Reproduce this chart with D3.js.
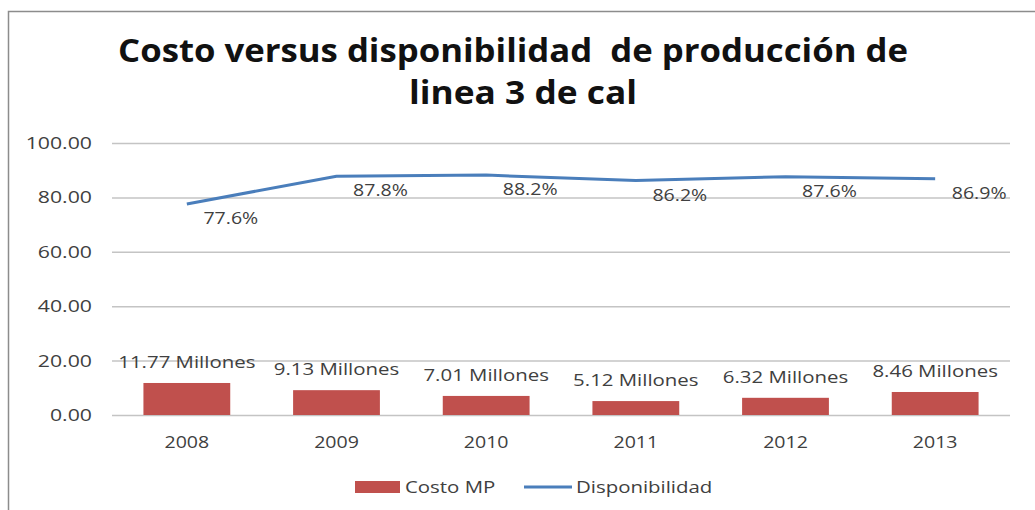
<!DOCTYPE html>
<html>
<head>
<meta charset="utf-8">
<script src="https://cdn.jsdelivr.net/npm/d3@7"></script>
<style>
  body { margin: 0; background: #fff; }
  text { font-family: "Open Sans", Arial, sans-serif; }
</style>
</head>
<body>
<svg id="chart" width="1035" height="510"></svg>
<script>
// data
const years = ["2008", "2009", "2010", "2011", "2012", "2013"];
const costoMP = [11.77, 9.13, 7.01, 5.12, 6.32, 8.46];
const disponibilidad = [77.6, 87.8, 88.2, 86.2, 87.6, 86.9];
const yTicks = [0, 20, 40, 60, 80, 100];

const svg = d3.select("#chart");
const margin = { top: 143, left: 112, right: 25, bottom: 95 };
const width = 1035 - margin.left - margin.right;
const height = 510 - margin.top - margin.bottom;

//the source picture is stretched sideways, so widen the small labels a bit
function widen(sel, f) {
    sel.each(function() {
        const w = this.getComputedTextLength();
        d3.select(this).attr("textLength", w * f).attr("lengthAdjust", "spacingAndGlyphs");
    });
}

//outer border of the chart box
svg.append("path")
    .attr("d", "M8.5,510 L8.5,11.5 L1035,11.5")
    .attr("fill", "none")
    .attr("stroke", "#8c8c8c")
    .attr("stroke-width", 1.5);

//title
const title = svg.append("text")
    .attr("text-anchor", "middle")
    .style("font-size", "32px")
    .style("font-weight", "bold")
    .style("white-space", "pre")
    .attr("fill", "#111");
title.append("tspan").attr("x", 513).attr("y", 62)
    .attr("textLength", 790).attr("lengthAdjust", "spacingAndGlyphs")
    .text("Costo versus disponibilidad  de producción de");
title.append("tspan").attr("x", 523).attr("y", 104)
    .attr("textLength", 228).attr("lengthAdjust", "spacingAndGlyphs")
    .text("linea 3 de cal");

const g = svg.append("g")
    .attr("transform", `translate(${margin.left},${margin.top})`);

const x = d3.scaleBand().domain(years).range([0, width]).paddingInner(0.42).paddingOuter(0.21);
const xc = d => x(d) + x.bandwidth() / 2;
const y = d3.scaleLinear().domain([0, 100]).range([height, 0]);

//gridlines + y labels
const yAxis = g.append("g")
    .call(d3.axisLeft(y).tickValues(yTicks).tickFormat(d3.format(".2f")).tickSize(-width).tickPadding(20));
yAxis.select(".domain").remove();
yAxis.selectAll("line").attr("stroke", "#c4c4c4").attr("stroke-width", 1.5);
yAxis.selectAll("text")
    .attr("fill", "#404040")
    .style("font-family", "'Open Sans', sans-serif")
    .style("font-size", "17px")
    .call(widen, 1.25);

//x labels
const xAxis = g.append("g")
    .attr("transform", `translate(0,${height})`)
    .call(d3.axisBottom(x).tickSize(0).tickPadding(21));
xAxis.select(".domain").remove();
xAxis.selectAll("text")
    .attr("fill", "#404040")
    .style("font-family", "'Open Sans', sans-serif")
    .style("font-size", "17px")
    .call(widen, 1.15);

//bars
g.selectAll("rect.bar")
    .data(costoMP)
    .enter()
    .append("rect")
    .attr("class", "bar")
    .attr("x", (d, i) => x(years[i]))
    .attr("y", d => y(d))
    .attr("width", x.bandwidth())
    .attr("height", d => height - y(d))
    .attr("fill", "#c0504d");

g.selectAll("text.barlab")
    .data(costoMP)
    .enter()
    .append("text")
    .attr("class", "barlab")
    .attr("x", (d, i) => xc(years[i]))
    .attr("y", d => y(d) - 15)
    .attr("text-anchor", "middle")
    .attr("fill", "#404040")
    .style("font-size", "17px")
    .text(d => d.toFixed(2) + " Millones")
    .call(widen, 1.2);

//line
const line = d3.line()
    .x((d, i) => xc(years[i]))
    .y(d => y(d));

g.append("path")
    .datum(disponibilidad)
    .attr("fill", "none")
    .attr("stroke", "#4a7ebb")
    .attr("stroke-width", 3)
    .attr("stroke-linejoin", "round")
    .attr("d", line);

g.selectAll("text.linelab")
    .data(disponibilidad)
    .enter()
    .append("text")
    .attr("class", "linelab")
    .attr("x", (d, i) => xc(years[i]) + 44)
    .attr("y", d => y(d) + 20)
    .attr("text-anchor", "middle")
    .attr("fill", "#404040")
    .style("font-size", "17px")
    .text(d => d.toFixed(1) + "%")
    .call(widen, 1.15);

//legend
const legend = svg.append("g").attr("transform", "translate(355,487)");
legend.append("rect")
    .attr("x", 0).attr("y", -6)
    .attr("width", 45).attr("height", 12)
    .attr("fill", "#c0504d");
legend.append("text")
    .attr("x", 50).attr("y", 0).attr("dy", "0.35em")
    .attr("fill", "#404040")
    .style("font-size", "17px")
    .text("Costo MP")
    .call(widen, 1.2);
legend.append("line")
    .attr("x1", 169).attr("x2", 217)
    .attr("y1", 0).attr("y2", 0)
    .attr("stroke", "#4a7ebb")
    .attr("stroke-width", 3);
legend.append("text")
    .attr("x", 221).attr("y", 0).attr("dy", "0.35em")
    .attr("fill", "#404040")
    .style("font-size", "17px")
    .text("Disponibilidad")
    .call(widen, 1.2);
</script>
</body>
</html>
